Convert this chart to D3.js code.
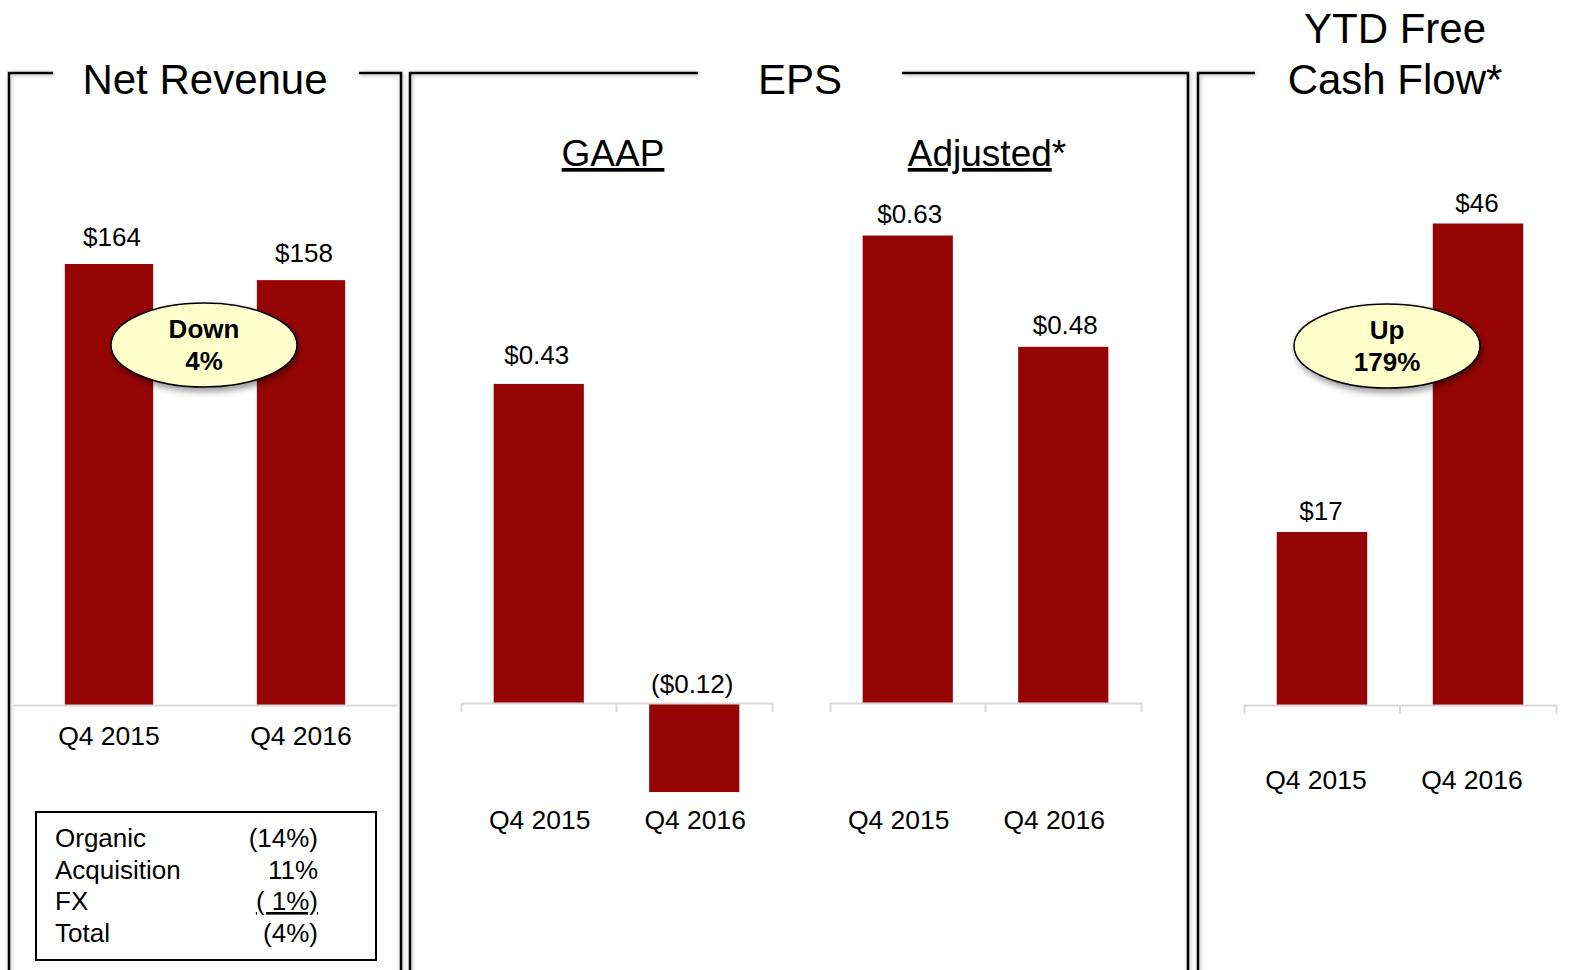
<!DOCTYPE html>
<html>
<head>
<meta charset="utf-8">
<script src="https://cdn.jsdelivr.net/npm/d3@7"></script>
<style>
  body { margin: 0; background: #fff; }
  svg text { font-family: "Liberation Sans", Arial, sans-serif; fill: #000; }
</style>
</head>
<body>
<svg id="chart"></svg>
<script>
// data
const categories = ["Q4 2015", "Q4 2016"];
const netRevenue = [164, 158];
const epsGaap = [0.43, -0.12];
const epsAdjusted = [0.63, 0.48];
const freeCashFlow = [16.6, 46.2];

const tableLabels = ["Organic", "Acquisition", "FX", "Total"];
const tableValues = ["(14%)", "11%", "( 1%)", "(4%)"];

const revenueCallout = ["Down", "4%"];
const cashCallout = ["Up", "179%"];

const W = 1585, H = 970;
const barColor = "#950505";
const axisColor = "#d9d9d9";

const svg = d3.select("#chart").attr("width", W).attr("height", H);

const defs = svg.append("defs");
defs.append("filter").attr("id", "lineShadow")
    .attr("x", "-50%").attr("y", "-50%").attr("width", "200%").attr("height", "200%")
  .append("feDropShadow")
    .attr("dx", 1).attr("dy", 1).attr("stdDeviation", 2)
    .attr("flood-color", "#000").attr("flood-opacity", 0.3);
defs.append("filter").attr("id", "ovalShadow")
    .attr("x", "-30%").attr("y", "-30%").attr("width", "160%").attr("height", "170%")
  .append("feDropShadow")
    .attr("dx", 2).attr("dy", 4).attr("stdDeviation", 3)
    .attr("flood-color", "#000").attr("flood-opacity", 0.4);

svg.append("rect").attr("width", W).attr("height", H).attr("fill", "#fff");

// panel frames (open at the top for the titles)
const frames = [
  "M53,73 H9 V980", "M359,73 H401 V980",
  "M698,73 H410 V980", "M902,73 H1188 V980",
  "M1255,73 H1198 V980", "M1537,73 H1600"
];
svg.append("g").selectAll("path").data(frames).join("path")
    .attr("d", d => d)
    .attr("fill", "none")
    .attr("stroke", "#000")
    .attr("stroke-width", 2.5)
    .attr("filter", "url(#lineShadow)");

// titles
function title(lines, cx, lastBaseline) {
  const t = svg.append("text")
      .attr("x", cx)
      .attr("text-anchor", "middle")
      .style("font-size", "42px");
  lines.forEach((l, i) => {
    t.append("tspan").attr("x", cx)
      .attr("y", lastBaseline - (lines.length - 1 - i) * 51)
      .text(l);
  });
}
title(["Net Revenue"], 205, 94);
title(["EPS"], 800, 94);
title(["YTD Free", "Cash Flow*"], 1395, 94);

// EPS sub titles
svg.append("text")
    .attr("x", 613).attr("y", 166)
    .attr("text-anchor", "middle")
    .style("font-size", "37px")
    .style("text-decoration", "underline")
    .text("GAAP");
const adj = svg.append("text")
    .attr("x", 987).attr("y", 166)
    .attr("text-anchor", "middle")
    .style("font-size", "37px");
adj.append("tspan").style("text-decoration", "underline").text("Adjusted");
adj.append("tspan").text("*");

// generic bar chart
function barChart(cfg) {
  const g = svg.append("g");

  const x = d3.scaleBand()
      .domain(categories)
      .range(cfg.xRange)
      .paddingInner(cfg.padding)
      .paddingOuter(cfg.padding / 2);

  const y = cfg.y;
  const rows = categories.map((c, i) => ({cat: c, value: cfg.values[i]}));

  g.selectAll(".bar").data(rows).join("rect")
      .attr("class", "bar")
      .attr("x", d => x(d.cat))
      .attr("width", x.bandwidth())
      .attr("y", d => y(Math.max(0, d.value)))
      .attr("height", d => Math.abs(y(d.value) - y(0)))
      .attr("fill", barColor);

  // axis line, outer ticks from the axis, middle tick between the bands
  const axisG = g.append("g")
      .attr("transform", `translate(0,${y(0)})`)
      .call(d3.axisBottom(x).tickSize(0).tickSizeOuter(cfg.ticks ? 9 : 0).tickFormat(""));
  axisG.select(".domain").attr("stroke", axisColor).attr("stroke-width", 2);
  if (cfg.ticks) {
    const r0 = x.range()[0];
    d3.range(1, categories.length).forEach(i => {
      axisG.append("line")
          .attr("x1", r0 + i * x.step()).attr("x2", r0 + i * x.step())
          .attr("y1", 0).attr("y2", 9)
          .attr("stroke", axisColor).attr("stroke-width", 2);
    });
  }

  // category labels
  g.selectAll(".cat").data(rows).join("text")
      .attr("class", "cat")
      .attr("x", d => x(d.cat) + x.bandwidth() / 2 + cfg.catShift)
      .attr("y", cfg.catY)
      .attr("text-anchor", "middle")
      .style("font-size", "26.5px")
      .text(d => d.cat);

  // value labels
  g.selectAll(".val").data(rows).join("text")
      .attr("class", "val")
      .attr("x", d => x(d.cat) + x.bandwidth() / 2 + cfg.valShift)
      .attr("y", d => d.value >= 0 ? y(d.value) - cfg.gap : y(0) - 10)
      .attr("text-anchor", "middle")
      .style("font-size", "26px")
      .text(d => cfg.format(d.value));
}

const yRevenue = d3.scaleLinear().domain([0, 164]).range([705, 264]);
const yEps = d3.scaleLinear().domain([0, 0.63]).range([703, 235.5]);
const yCash = d3.scaleLinear().domain([0, 46.2]).range([705, 223.5]);

barChart({values: netRevenue, xRange: [13, 397], padding: 0.54, y: yRevenue,
  ticks: false, catY: 745, catShift: 0, valShift: 3, gap: 18,
  format: d => "$" + d3.format(".0f")(d)});
barChart({values: epsGaap, xRange: [461, 772], padding: 0.42, y: yEps,
  ticks: true, catY: 829, catShift: 1, valShift: -2, gap: 20,
  format: d3.format("($.2f")});
barChart({values: epsAdjusted, xRange: [830, 1141], padding: 0.42, y: yEps,
  ticks: true, catY: 829, catShift: -9, valShift: 2, gap: 13,
  format: d3.format("($.2f")});
barChart({values: freeCashFlow, xRange: [1244, 1556], padding: 0.42, y: yCash,
  ticks: true, catY: 789, catShift: -6, valShift: -1, gap: 12,
  format: d => "$" + d3.format(".0f")(d)});

// callout ovals
function callout(lines, cx, cy) {
  const g = svg.append("g");
  g.append("ellipse")
      .attr("cx", cx).attr("cy", cy)
      .attr("rx", 93).attr("ry", 42)
      .attr("fill", "#ffffcc")
      .attr("stroke", "#000")
      .attr("stroke-width", 1.5)
      .attr("filter", "url(#ovalShadow)");
  g.selectAll("text").data(lines).join("text")
      .attr("x", cx)
      .attr("y", (d, i) => cy - 7 + i * 32)
      .attr("text-anchor", "middle")
      .style("font-size", "26px")
      .style("font-weight", "700")
      .text(d => d);
}
callout(revenueCallout, 204, 345);
callout(cashCallout, 1387, 346);

// revenue bridge table
const tbl = svg.append("g");
tbl.append("rect")
    .attr("x", 36).attr("y", 812)
    .attr("width", 340).attr("height", 148)
    .attr("fill", "none")
    .attr("stroke", "#000")
    .attr("stroke-width", 2);
tbl.selectAll(".lbl").data(tableLabels).join("text")
    .attr("class", "lbl")
    .attr("x", 55)
    .attr("y", (d, i) => 847 + i * 31.5)
    .style("font-size", "26px")
    .text(d => d);
tbl.selectAll(".num").data(tableValues).join("text")
    .attr("class", "num")
    .attr("x", 318)
    .attr("y", (d, i) => 847 + i * 31.5)
    .attr("text-anchor", "end")
    .style("font-size", "26px")
    .style("text-decoration", (d, i) => tableLabels[i] === "FX" ? "underline" : null)
    .style("white-space", "pre")
    .text(d => d);
</script>
</body>
</html>
